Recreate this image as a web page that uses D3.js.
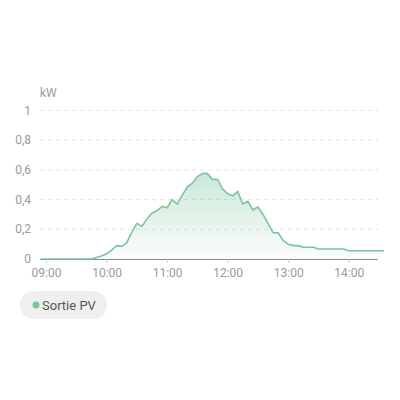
<!DOCTYPE html>
<html>
<head>
<meta charset="utf-8">
<script src="https://cdn.jsdelivr.net/npm/d3@7"></script>
<style>
  body { margin: 0; background: #fff; }
  svg { display: block; font-family: Roboto, "Noto Sans", sans-serif; }
</style>
</head>
<body>
<svg id="chart"></svg>
<script>
// 5 minute samples, 08:55 -> 14:30
var startTime = "08:55"
var stepMinutes = 5
var pvValues = [
  0, 0, 0, 0, 0, 0, 0, 0, 0, 0, 0,
  0.01, 0.02, 0.035, 0.06, 0.09, 0.085, 0.11, 0.18, 0.24, 0.22,
  0.27, 0.31, 0.325, 0.355, 0.345, 0.40, 0.37, 0.43, 0.485, 0.51,
  0.555, 0.577, 0.575, 0.535, 0.537, 0.47, 0.44, 0.425, 0.455, 0.37,
  0.39, 0.33, 0.35, 0.30, 0.24, 0.177, 0.177, 0.125, 0.10, 0.09,
  0.09, 0.079, 0.079, 0.079, 0.067, 0.067, 0.067, 0.067, 0.067, 0.067,
  0.056, 0.056, 0.056, 0.056, 0.056, 0.056, 0.056, 0.056
]
var yTicks = [0, 0.2, 0.4, 0.6, 0.8, 1]
var xTickLabels = ["09:00", "10:00", "11:00", "12:00", "13:00", "14:00"]
var seriesName = "Sortie PV"
var unitLabel = "kW"

var width = 400
var height = 400
var green = "#7cc49c"

var parseTime = d3.timeParse("%H:%M")
var t0 = parseTime(startTime)
var data = pvValues.map(function (v, i) {
  return { t: d3.timeMinute.offset(t0, i * stepMinutes), v: v }
})

var svg = d3.select("#chart").attr("width", width).attr("height", height)

var x = d3.scaleTime()
  .domain([t0, parseTime("14:30")])
  .range([41, 379])

var y = d3.scaleLinear()
  .domain([0, 1])
  .range([259, 110.5])

var defs = svg.append("defs")
var grad = defs.append("linearGradient")
  .attr("id", "pvFill")
  .attr("x1", 0).attr("y1", 0).attr("x2", 0).attr("y2", 1)
grad.append("stop").attr("offset", "0%").attr("stop-color", green).attr("stop-opacity", 0.4)
grad.append("stop").attr("offset", "100%").attr("stop-color", green).attr("stop-opacity", 0.03)

// grid lines
svg.append("g")
  .selectAll("line")
  .data(yTicks.slice(1))
  .enter().append("line")
    .attr("x1", 40).attr("x2", 378)
    .attr("y1", function (d) { return y(d) })
    .attr("y2", function (d) { return y(d) })
    .attr("stroke", "#e3e3e3")
    .attr("stroke-dasharray", "4,4")

// y labels
var fmt = function (d) { return String(d).replace(".", ",") }
svg.append("g")
  .selectAll("text")
  .data(yTicks)
  .enter().append("text")
    .attr("x", 31)
    .attr("y", function (d) { return y(d) + 4 })
    .attr("text-anchor", "end")
    .attr("font-size", 12)
    .attr("fill", "#9a9a9a")
    .text(fmt)

svg.append("text")
  .attr("x", 40).attr("y", 97)
  .attr("font-size", 12)
  .attr("fill", "#9a9a9a")
  .text(unitLabel)

// area + line
var area = d3.area()
  .x(function (d) { return x(d.t) })
  .y0(y(0))
  .y1(function (d) { return y(d.v) })

var line = d3.line()
  .x(function (d) { return x(d.t) })
  .y(function (d) { return y(d.v) })

svg.append("path")
  .datum(data)
  .attr("d", area)
  .attr("fill", "url(#pvFill)")

// x axis
var xAxis = d3.axisBottom(x)
  .tickValues(xTickLabels.map(parseTime))
  .tickFormat(d3.timeFormat("%H:%M"))
  .tickSize(4)
  .tickSizeOuter(0)

var gx = svg.append("g")
  .attr("transform", "translate(0," + y(0) + ")")
  .call(xAxis)
gx.select(".domain").attr("stroke", "#8a8a8a").attr("d", "M40,0.5H378")
gx.selectAll(".tick line").attr("stroke", "#cfcfcf")
gx.selectAll(".tick text")
  .attr("fill", "#9a9a9a")
  .attr("font-size", 12)
  .attr("font-family", "Roboto, 'Noto Sans', sans-serif")
  .attr("dy", "0.95em")

svg.append("path")
  .datum(data)
  .attr("d", line)
  .attr("fill", "none")
  .attr("stroke", green)
  .attr("stroke-width", 1.6)
  .attr("stroke-linejoin", "round")

// legend pill
var legend = svg.append("g").attr("transform", "translate(20,291)")
legend.append("rect")
  .attr("width", 87).attr("height", 28)
  .attr("rx", 14)
  .attr("fill", "#efefef")
legend.append("circle")
  .attr("cx", 16).attr("cy", 14).attr("r", 3.5)
  .attr("fill", green)
legend.append("text")
  .attr("x", 22).attr("y", 18.5)
  .attr("font-size", 13)
  .attr("fill", "#555")
  .text(seriesName)
</script>
</body>
</html>
